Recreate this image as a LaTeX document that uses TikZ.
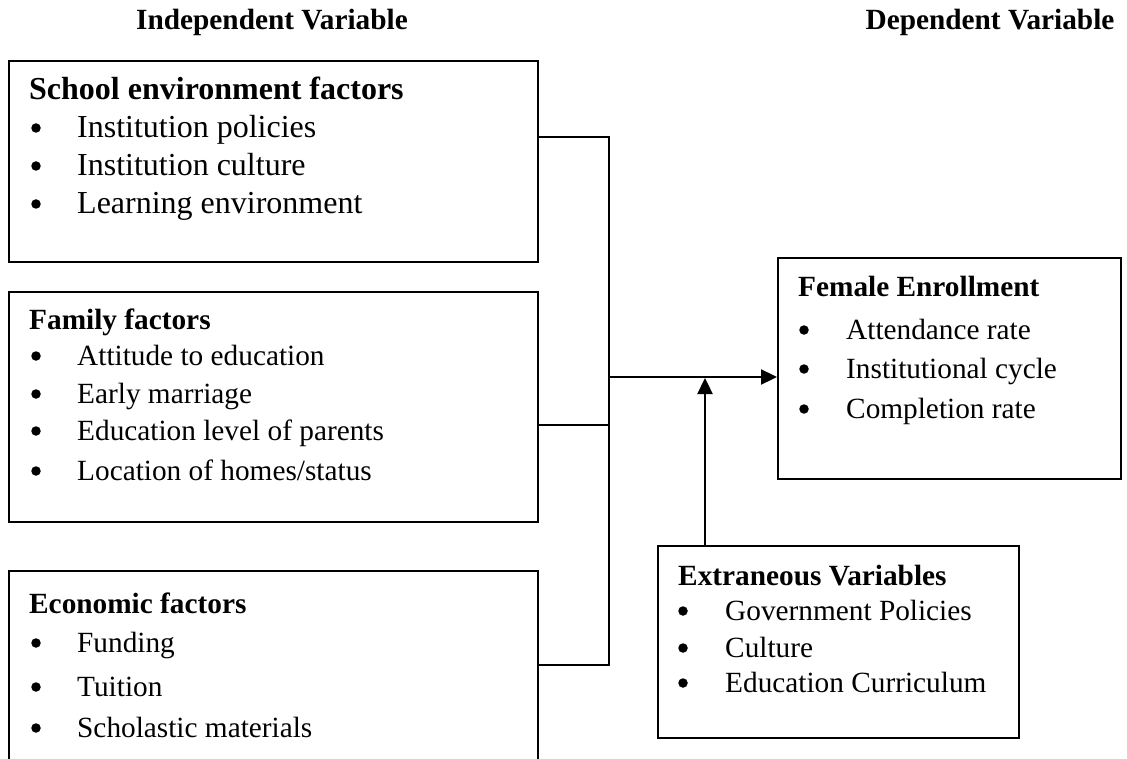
\documentclass[tikz,border=0pt]{standalone}
\usepackage{fontspec}
\setmainfont{Liberation Serif}
\usetikzlibrary{arrows.meta}
\begin{document}
\begin{tikzpicture}[x=1pt,y=-1pt,
  box/.style={draw, line width=2.3pt, anchor=north west, inner sep=0pt},
  txt/.style={anchor=base west, inner sep=0pt, font=\fontsize{29.3}{35}\selectfont},
  bigtxt/.style={anchor=base west, inner sep=0pt, font=\fontsize{32}{38}\selectfont},
  ttl/.style={anchor=base west, inner sep=0pt, font=\fontsize{29.3}{35}\selectfont\bfseries},
  bigttl/.style={anchor=base west, inner sep=0pt, font=\fontsize{32}{38}\selectfont\bfseries},
  head/.style={anchor=base, inner sep=0pt, font=\fontsize{29.3}{35}\selectfont\bfseries},
  dot/.style={circle, fill=black, inner sep=0pt, minimum size=9.5pt},
  conn/.style={line width=2.3pt, line join=miter},
  arr/.style={line width=2.3pt, -{Triangle[length=16pt,width=15pt]}}]
\useasboundingbox (0,0) rectangle (1127,759);

% headers
\node[head] (hind) at (272,30) {Independent Variable};
\node[head] (hdep) at (990,30) {Dependent Variable};

% boxes
\node[box, minimum width=529pt, minimum height=201pt] (school) at (8,60) {};
\node[box, minimum width=529pt, minimum height=230pt] (family) at (8,291) {};
\node[box, minimum width=529pt, minimum height=210pt] (econ) at (8,570) {};
\node[box, minimum width=343pt, minimum height=221pt] (female) at (777,257) {};
\node[box, minimum width=361pt, minimum height=192pt] (extr) at (657,545) {};

% school
\node[bigttl] (s0) at (29,100) {School environment factors};
\node[dot] (s1b) at (36,128) {};
\node[bigtxt] (s1) at (77,138) {Institution policies};
\node[dot] (s2b) at (36,166) {};
\node[bigtxt] (s2) at (77,176) {Institution culture};
\node[dot] (s3b) at (36,204) {};
\node[bigtxt] (s3) at (77,214) {Learning environment};

% family
\node[ttl] (f0) at (29,330) {Family factors};
\node[dot] (f1b) at (36,356) {};
\node[txt] (f1) at (77,365) {Attitude to education};
\node[dot] (f2b) at (36,394) {};
\node[txt] (f2) at (77,403) {Early marriage};
\node[dot] (f3b) at (36,431) {};
\node[txt] (f3) at (77,440) {Education level of parents};
\node[dot] (f4b) at (36,471) {};
\node[txt] (f4) at (77,480) {Location of homes/status};

% economic
\node[ttl] (e0) at (29,613) {Economic factors};
\node[dot] (e1b) at (36,643) {};
\node[txt] (e1) at (77,652) {Funding};
\node[dot] (e2b) at (36,687) {};
\node[txt] (e2) at (77,696) {Tuition};
\node[dot] (e3b) at (36,728) {};
\node[txt] (e3) at (77,737) {Scholastic materials};

% female
\node[ttl] (d0) at (798,297) {Female Enrollment};
\node[dot] (d1b) at (804,330) {};
\node[txt] (d1) at (846,339) {Attendance rate};
\node[dot] (d2b) at (804,369) {};
\node[txt] (d2) at (846,378) {Institutional cycle};
\node[dot] (d3b) at (804,409) {};
\node[txt] (d3) at (846,418) {Completion rate};

% extraneous
\node[ttl] (x0) at (678,585) {Extraneous Variables};
\node[dot] (x1b) at (683,611) {};
\node[txt] (x1) at (725,620) {Government Policies};
\node[dot] (x2b) at (683,648) {};
\node[txt] (x2) at (725,657) {Culture};
\node[dot] (x3b) at (683,683) {};
\node[txt] (x3) at (725,692) {Education Curriculum};

% connectors
\coordinate (sTop) at (609,137);
\coordinate (sBot) at (609,665);
\coordinate (j) at (609,377);
\coordinate (m) at (705,377);
\draw[conn] ([yshift=-77pt]school.north east) -- (sTop) -- (sBot) -- ([yshift=-95pt]econ.north east);
\draw[conn] ([yshift=-134pt]family.north east) -- ([yshift=-134pt]family.north east -| sTop);
\draw[arr] (j) -- (j -| female.west);
\draw[arr] (m |- extr.north) -- ([yshift=-1pt]m);
\end{tikzpicture}
\end{document}
